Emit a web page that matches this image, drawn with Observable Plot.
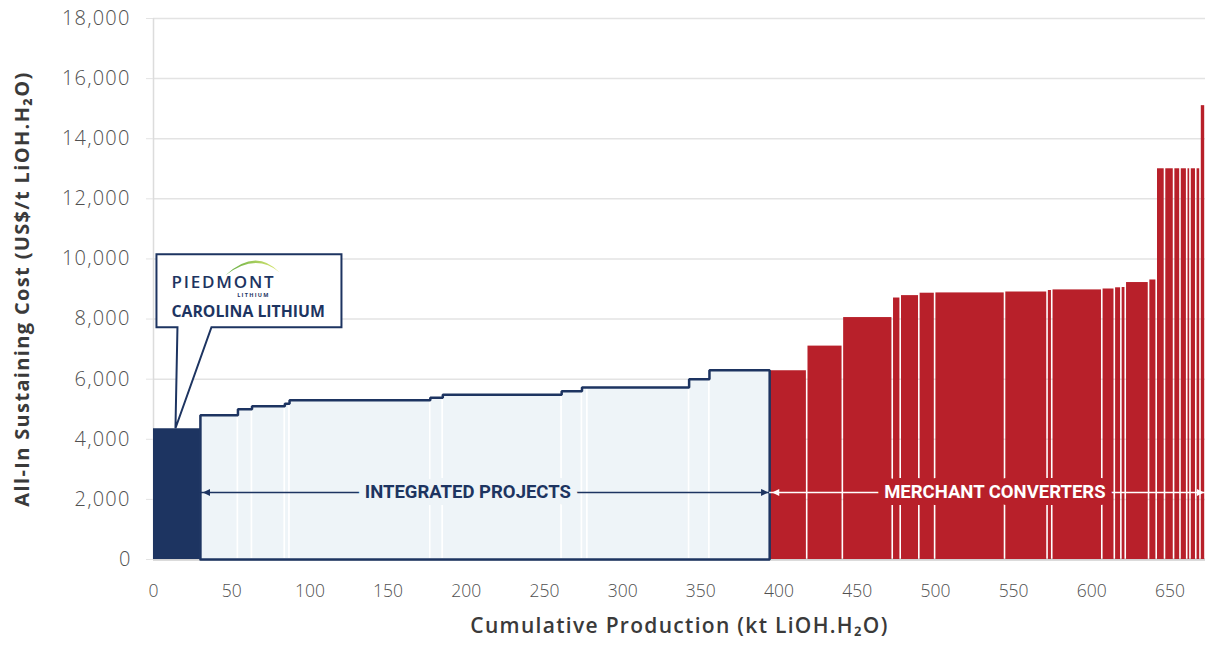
<!DOCTYPE html>
<html>
<head>
<meta charset="utf-8">
<script src="https://cdn.jsdelivr.net/npm/d3@7"></script>
<script src="https://cdn.jsdelivr.net/npm/@observablehq/plot@0.6"></script>
<style>
  html, body { margin: 0; padding: 0; background: #ffffff; }
  #chart { width: 1206px; height: 645px; }
</style>
</head>
<body>
<div id="chart"></div>
<script>
// Piedmont's Carolina Lithium project (capacity in kt LiOH.H2O, AISC in US$/t)
const piedmontName = "CAROLINA LITHIUM";
const piedmontCapacity = [30];
const piedmontCost = [4350];

// Other integrated projects, ranked by cost
const integratedCapacity = [24, 9, 21, 3, 90, 8, 76, 13, 3.5, 65, 13, 38.5];
const integratedCost = [4800, 5000, 5100, 5180, 5300, 5380, 5480, 5600, 5720, 5720, 6000, 6300];

// Merchant converters, ranked by cost
const merchantCapacity = [24, 22.8, 31.9, 5.1, 11.9, 10.1, 44.7, 27.2, 3.0, 32.0, 8.0, 4.2, 2.8,
  14.9, 4.9, 5.3, 5.8, 4.1, 4.3, 2.1, 3.7, 2.7, 3.2];
const merchantCost = [6280, 7100, 8050, 8700, 8780, 8860, 8870, 8900, 8950, 8970, 9000, 9040, 9050,
  9215, 9300, 13000, 13000, 13000, 13000, 13000, 13000, 13000, 15100];

// Axis ticks and titles
const xTicks = [0, 50, 100, 150, 200, 250, 300, 350, 400, 450, 500, 550, 600, 650];
const yTicks = [0, 2000, 4000, 6000, 8000, 10000, 12000, 14000, 16000, 18000];
const yTitle = "All-In Sustaining Cost (US$/t LiOH.H₂O)";
const xTitle = "Cumulative Production (kt LiOH.H₂O)";

const navy = "#1d3461";
const paleBlue = "#eef4f8";
const red = "#b8202a";

// Lay each group of projects end to end along the cumulative production axis
function stack(capacities, costs, start) {
  let x = start;
  return capacities.map((w, i) => {
    const row = { x1: x, x2: x + w, cost: costs[i] };
    x += w;
    return row;
  });
}
const piedmont = stack(piedmontCapacity, piedmontCost, 0);
const integrated = stack(integratedCapacity, integratedCost, piedmont[piedmont.length - 1].x2);
const integratedStart = integrated[0].x1;
const integratedEnd = integrated[integrated.length - 1].x2;
const merchant = stack(merchantCapacity, merchantCost, integratedEnd);
const xMax = merchant[merchant.length - 1].x2;

// Step outline around the integrated block
const outline = [
  { x: integratedStart, y: 0 },
  ...integrated.map(d => ({ x: d.x1, y: d.cost })),
  { x: integratedEnd, y: integrated[integrated.length - 1].cost },
  { x: integratedEnd, y: 0 },
  { x: integratedStart, y: 0 }
];

// Section annotations
const bandLevel = 2230;
const sections = [
  { label: "INTEGRATED PROJECTS", x: 201, from: integratedStart, to: integratedEnd, color: navy, halo: paleBlue },
  { label: "MERCHANT CONVERTERS", x: 538, from: integratedEnd, to: xMax, color: "#ffffff", halo: red }
];

// Filled triangle symbols for arrowheads
const arrowLeft = { draw(ctx, size) { const s = Math.sqrt(size / Math.PI); ctx.moveTo(-s, 0); ctx.lineTo(s, -s); ctx.lineTo(s, s); ctx.closePath(); } };
const arrowRight = { draw(ctx, size) { const s = Math.sqrt(size / Math.PI); ctx.moveTo(s, 0); ctx.lineTo(-s, -s); ctx.lineTo(-s, s); ctx.closePath(); } };

// Callout box pointing at the Carolina Lithium bar
function callout(index, scales) {
  const tx = scales.x((piedmont[0].x1 + piedmont[0].x2) / 2) - 1;
  const ty = scales.y(piedmont[0].cost);
  const g = d3.create("svg:g").attr("text-anchor", "start");
  const left = tx - 19, right = tx + 166, top = ty - 174, bottom = ty - 101;
  g.append("path")
    .attr("d", `M${tx + 2},${bottom}L${left},${bottom}L${left},${top}L${right},${top}L${right},${bottom}L${tx + 36},${bottom}L${tx},${ty}Z`)
    .attr("fill", "#ffffff").attr("stroke", navy).attr("stroke-width", 2).attr("stroke-linejoin", "miter");
  const defs = g.append("defs");
  const grad = defs.append("linearGradient").attr("id", "swoosh").attr("x1", "0%").attr("x2", "100%");
  grad.append("stop").attr("offset", "0%").attr("stop-color", "#5daa3f");
  grad.append("stop").attr("offset", "100%").attr("stop-color", "#dde874");
  g.append("path")
    .attr("d", `M${tx + 50},${ty - 153}Q${tx + 80},${ty - 181} ${tx + 104},${ty - 156}Q${tx + 80},${ty - 176} ${tx + 50},${ty - 153}Z`)
    .attr("fill", "url(#swoosh)");
  g.append("text").text("PIEDMONT")
    .attr("x", tx - 4).attr("y", ty - 140).attr("text-anchor", "start")
    .attr("fill", navy).attr("font-family", "'Open Sans', sans-serif").attr("font-weight", 600)
    .attr("font-size", 17).attr("letter-spacing", 1.8);
  g.append("text").text("LITHIUM")
    .attr("x", tx + 78).attr("y", ty - 131).attr("text-anchor", "middle")
    .attr("fill", navy).attr("font-family", "'Open Sans', sans-serif").attr("font-weight", 700)
    .attr("font-size", 5.5).attr("letter-spacing", 1.3);
  g.append("text").text(piedmontName)
    .attr("x", tx - 4).attr("y", ty - 111).attr("text-anchor", "start")
    .attr("fill", navy).attr("font-family", "'Open Sans', sans-serif").attr("font-weight", 700)
    .attr("font-size", 15.8);
  return g.node();
}

const chart = Plot.plot({
  width: 1206,
  height: 645,
  marginLeft: 153,
  marginRight: 1,
  marginTop: 18,
  marginBottom: 86,
  style: { fontFamily: "'Open Sans', sans-serif", background: "#ffffff", overflow: "visible" },
  x: { domain: [0, xMax] },
  y: { domain: [0, 18000] },
  marks: [
    Plot.gridY(yTicks, { stroke: "#e3e3e3", strokeOpacity: 1, strokeWidth: 1.5 }),
    Plot.ruleX([0], { stroke: "#dcdcdc", strokeWidth: 1.5 }),
    Plot.ruleY([0], { stroke: "#d2d2d2", strokeWidth: 2.5 }),
    Plot.axisY(yTicks, {
      tickSize: 7, tickPadding: 16, tickFormat: d3.format(","),
      stroke: "#e3e3e3", fill: "#505050", fontSize: 20, fontWeight: 300, label: null
    }),
    Plot.axisX(xTicks, {
      tickSize: 0, tickPadding: 25, fill: "#505050", fontSize: 17.5, fontWeight: 300, label: null
    }),
    Plot.rect(integrated, { x1: "x1", x2: "x2", y1: 0, y2: "cost", fill: paleBlue, stroke: "#ffffff", strokeWidth: 1.5 }),
    Plot.rect(piedmont, { x1: "x1", x2: "x2", y1: 0, y2: "cost", fill: navy }),
    Plot.rect(merchant, { x1: "x1", x2: "x2", y1: 0, y2: "cost", fill: red, insetLeft: 0.8, insetRight: 0.8 }),
    Plot.line(outline, { x: "x", y: "y", curve: "step-after", stroke: navy, strokeWidth: 2.5, strokeLinejoin: "miter" }),
    // section arrows
    Plot.ruleY(sections, { y: bandLevel, x1: d => d.from, x2: d => d.to, stroke: "color", strokeWidth: 1.5 }),
    Plot.dot(sections, { x: "from", y: bandLevel, symbol: arrowLeft, r: 3.6, fill: "color", stroke: null, dx: 6 }),
    Plot.dot(sections, { x: "to", y: bandLevel, symbol: arrowRight, r: 3.6, fill: "color", stroke: null, dx: -5 }),
    Plot.text(sections, {
      x: "x", y: bandLevel, text: "label", fill: "color", stroke: "halo", strokeWidth: 14,
      fontFamily: "Roboto, sans-serif", fontWeight: 700, fontSize: 18.5
    }),
    callout,
    // axis titles
    Plot.text([yTitle], {
      text: d => d, frameAnchor: "left", textAnchor: "middle", dx: -131, rotate: -90,
      fill: "#3a3a3a", fontWeight: 700, fontSize: 20, fontFamily: "'Open Sans', sans-serif"
    }),
    Plot.text([xTitle], {
      text: d => d, frameAnchor: "bottom", dy: 73,
      fill: "#3a3a3a", fontWeight: 600, fontSize: 21, fontFamily: "'Open Sans', sans-serif"
    })
  ]
});

// Wider letter spacing for the axis titles and the cost tick labels
d3.select(chart).selectAll("text").each(function () {
  const t = this.textContent;
  if (t === yTitle) this.style.letterSpacing = "1.35px";
  else if (t === xTitle) this.style.letterSpacing = "1.3px";
  else if (/^\d{1,2},\d{3}$/.test(t)) this.style.letterSpacing = "1.2px";
});

document.getElementById("chart").appendChild(chart);
</script>
</body>
</html>
